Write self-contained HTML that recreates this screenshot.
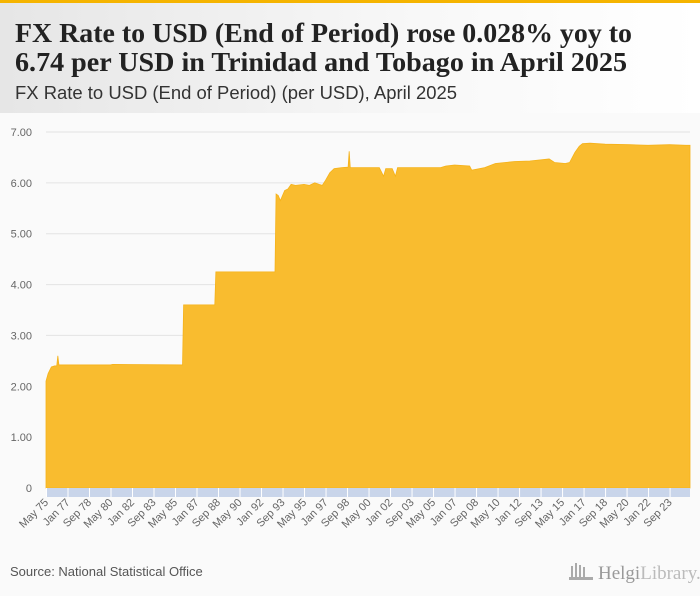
<!DOCTYPE html>
<html><head><meta charset="utf-8"><style>
html,body{margin:0;padding:0;background:#fafafa}
svg{display:block}
</style></head><body>
<svg id="chart" width="700" height="596" viewBox="0 0 700 596" xmlns="http://www.w3.org/2000/svg" font-family="Liberation Sans, sans-serif">
<defs><linearGradient id="hg" x1="0" x2="1"><stop offset="0" stop-color="#e6e6e6"/><stop offset="0.6" stop-color="#f8f8f8"/><stop offset="1" stop-color="#ffffff"/></linearGradient></defs>
<rect x="0" y="0" width="700" height="596" fill="#fafafa"/>
<rect x="0" y="3" width="700" height="110" fill="url(#hg)"/>
<rect x="0" y="0" width="700" height="3" fill="#f5b400"/>
<text x="15" y="42" font-family="Liberation Serif, serif" font-weight="bold" font-size="27" fill="#222" textLength="617" lengthAdjust="spacingAndGlyphs">FX Rate to USD (End of Period) rose 0.028% yoy to</text>
<text x="15" y="71" font-family="Liberation Serif, serif" font-weight="bold" font-size="27" fill="#222" textLength="612" lengthAdjust="spacingAndGlyphs">6.74 per USD in Trinidad and Tobago in April 2025</text>
<text x="15" y="99" font-size="18" fill="#333" textLength="442" lengthAdjust="spacingAndGlyphs">FX Rate to USD (End of Period) (per USD), April 2025</text>
<g id="grid"></g>
<g id="area"></g>
<g id="xaxis"></g>
<text x="10" y="576" font-size="13" fill="#555">Source: National Statistical Office</text>
<g>
<text x="598" y="579" font-family="Liberation Serif, serif" font-size="19" fill="#999">Helgi<tspan fill="#bbb">Library.</tspan></text>
<rect x="571" y="566" width="2" height="12" fill="#aaa"/><rect x="575" y="563" width="2" height="15" fill="#aaa"/><rect x="579" y="565" width="2" height="13" fill="#aaa"/><rect x="583" y="567" width="2" height="11" fill="#aaa"/><rect x="569" y="577" width="24" height="3" fill="#aaa"/>
</g>
</svg>
<script>
// month index from May 1975, and value (per USD)
const monthIdx = [0,2,5,8,10,11,12,13,60,62,127,128,157,158,213,214,216,218,220,222,225,228,232,240,245,250,254,257,260,264,268,275,281,282,283,310,314,316,319,322,325,327,367,372,380,394,396,408,418,427,436,450,464,468,473,483,487,492,496,499,506,520,543,560,580,595,599];
const values   = [2.10,2.25,2.38,2.40,2.40,2.60,2.42,2.42,2.42,2.43,2.42,3.60,3.60,4.25,4.25,5.78,5.75,5.65,5.75,5.85,5.88,5.97,5.95,5.97,5.95,6.00,5.97,5.95,6.05,6.20,6.28,6.30,6.31,6.62,6.30,6.30,6.13,6.28,6.28,6.28,6.13,6.30,6.30,6.33,6.35,6.33,6.25,6.30,6.38,6.40,6.42,6.43,6.46,6.47,6.40,6.38,6.40,6.60,6.72,6.77,6.78,6.76,6.75,6.74,6.75,6.74,6.74];
const yTicks = [0,1,2,3,4,5,6,7];
const yTickLabels = ["0","1.00","2.00","3.00","4.00","5.00","6.00","7.00"];
const xTickLabels = ["May 75","Jan 77","Sep 78","May 80","Jan 82","Sep 83","May 85","Jan 87","Sep 88","May 90","Jan 92","Sep 93","May 95","Jan 97","Sep 98","May 00","Jan 02","Sep 03","May 05","Jan 07","Sep 08","May 10","Jan 12","Sep 13","May 15","Jan 17","Sep 18","May 20","Jan 22","Sep 23"];
const nMonths = 600;

const NS="http://www.w3.org/2000/svg";
const x0=46,x1=690,yBase=488,yTop=132;
const xs=i=>x0+i*(x1-x0)/(nMonths-1);
const ys=v=>yBase-v*(yBase-yTop)/7;
function mk(tag,attrs,parent){const e=document.createElementNS(NS,tag);for(const k in attrs)e.setAttribute(k,attrs[k]);parent.appendChild(e);return e;}

const grid=document.getElementById('grid');
yTicks.forEach((t,k)=>{
  if(t>0){const l=mk('line',{x1:x0,x2:x1,y1:ys(t),y2:ys(t),stroke:'#e3e3e3','stroke-width':1},grid);
  
  }
  const tx=mk('text',{x:32,y:ys(t)+4,'text-anchor':'end','font-size':11,fill:'#666'},grid);
  tx.textContent=yTickLabels[k];
  
  
});

const area=document.getElementById('area');
let d='M'+xs(monthIdx[0])+','+yBase;
monthIdx.forEach((m,k)=>{d+=' L'+xs(m).toFixed(2)+','+ys(values[k]).toFixed(2);});
d+=' L'+xs(monthIdx[monthIdx.length-1])+','+yBase+' Z';
const p=mk('path',{d:d,fill:'#f9bc2f',stroke:'#f5b21a','stroke-width':0.8},area);



const xa=document.getElementById('xaxis');
const band=mk('rect',{x:x0,y:yBase,width:x1-x0,height:9,fill:'#c9d5ea'},xa);


xTickLabels.forEach((lab,k)=>{
  const xx=xs(k*20);
  const tl=mk('line',{x1:xx+0.5,x2:xx+0.5,y1:yBase,y2:yBase+9,stroke:'#fff','stroke-width':1},xa);
  
  
  const t=mk('text',{x:xx+3,y:yBase+15,'text-anchor':'end','font-size':11,fill:'#666',transform:'rotate(-45 '+(xx+3)+' '+(yBase+15)+')'},xa);
  t.textContent=lab;
  
  
});
</script>
</body></html>
